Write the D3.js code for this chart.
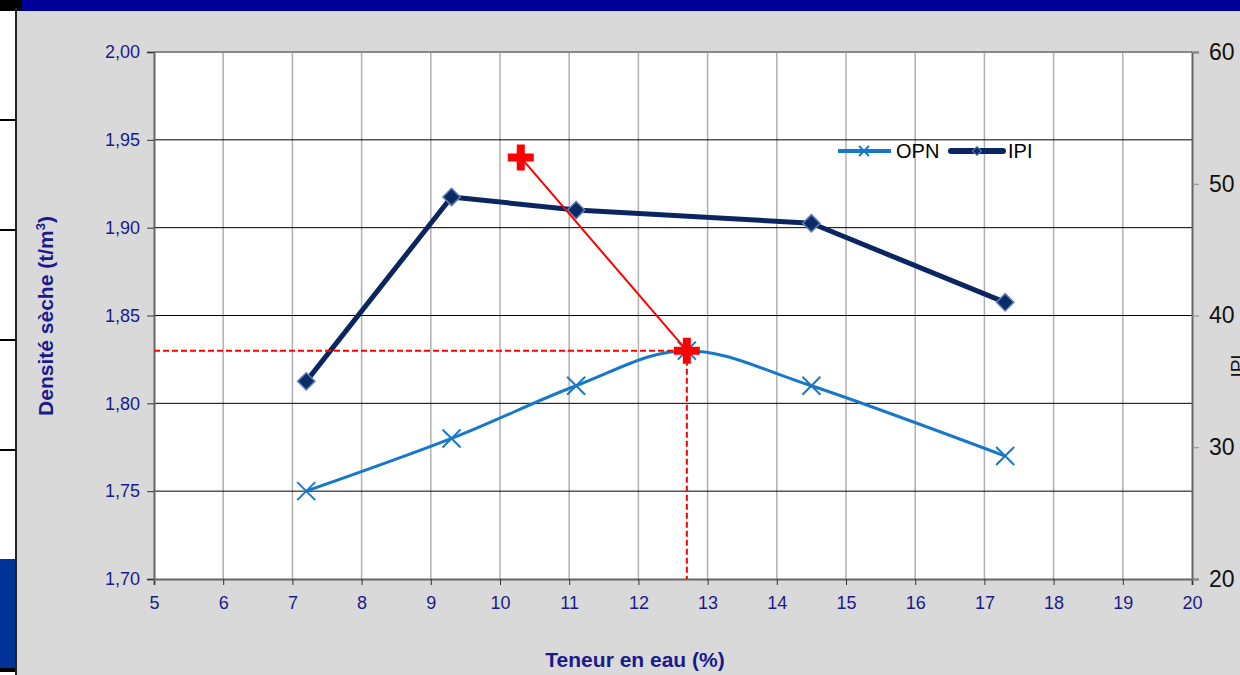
<!DOCTYPE html>
<html>
<head>
<meta charset="utf-8">
<script src="https://cdn.jsdelivr.net/npm/d3@7"></script>
<style>
  body { margin: 0; background: #d9d9d9; }
  svg { display: block; font-family: "Liberation Sans", Arial, sans-serif; }
</style>
</head>
<body>
<svg id="chart" width="1240" height="675"></svg>
<script>
// data
const teneur = [7.2, 9.3, 11.1, 12.7, 14.5, 17.3];
const opn = [1.75, 1.78, 1.81, 1.83, 1.81, 1.77];
const ipiX = [7.2, 9.3, 11.1, 14.5, 17.3];
const ipi = [35, 49, 48, 47, 41];
const optimum = { x: 12.7, y: 1.83 };
const ipiPoint = { x: 10.3, y: 1.94 };
const xTicks = d3.range(5, 21, 1);
const yTicks = [1.70, 1.75, 1.80, 1.85, 1.90, 1.95, 2.00];
const y2Ticks = [20, 30, 40, 50, 60];

const width = 1240, height = 675;
const m = { left: 154, right: 1192, top: 52, bottom: 579 };
const svg = d3.select("#chart");
const blueText = "#1a1a8c";

// background bits
svg.append("rect").attr("width", width).attr("height", height).attr("fill", "#d9d9d9");
svg.append("rect").attr("x", 0).attr("y", 0).attr("width", width).attr("height", 11).attr("fill", "#000099");
svg.append("rect").attr("x", 0).attr("y", 0).attr("width", 22).attr("height", 11).attr("fill", "#000");
svg.append("rect").attr("x", 0).attr("y", 11).attr("width", 15).attr("height", 664).attr("fill", "#fff");
[120, 230, 340, 450].forEach(function (yy) {
  svg.append("rect").attr("x", 0).attr("y", yy - 1).attr("width", 15).attr("height", 2).attr("fill", "#000");
});
svg.append("rect").attr("x", 0).attr("y", 559).attr("width", 15).attr("height", 109).attr("fill", "#003399");
svg.append("rect").attr("x", 0).attr("y", 668).attr("width", 15).attr("height", 4).attr("fill", "#000");
svg.append("rect").attr("x", 15).attr("y", 8).attr("width", 2).attr("height", 667).attr("fill", "#222");

// scales
const x = d3.scaleLinear().domain([5, 20]).range([m.left, m.right]);
const y = d3.scaleLinear().domain([1.70, 2.00]).range([m.bottom, m.top]);
const y2 = d3.scaleLinear().domain([20, 60]).range([m.bottom, m.top]);

// plot area
svg.append("rect")
  .attr("x", m.left).attr("y", m.top)
  .attr("width", m.right - m.left).attr("height", m.bottom - m.top)
  .attr("fill", "#fff");

// grid
svg.append("g").selectAll("line").data(xTicks.slice(1, -1)).enter().append("line")
  .attr("x1", d => x(d)).attr("x2", d => x(d))
  .attr("y1", m.top).attr("y2", m.bottom)
  .attr("stroke", "#b0b0b0").attr("stroke-width", 1.5);
svg.append("g").selectAll("line").data(yTicks.slice(1, -1)).enter().append("line")
  .attr("x1", m.left).attr("x2", m.right)
  .attr("y1", d => y(d)).attr("y2", d => y(d))
  .attr("stroke", "#000").attr("stroke-width", 1);
svg.append("line").attr("x1", m.left).attr("x2", m.right).attr("y1", m.top).attr("y2", m.top)
  .attr("stroke", "#888").attr("stroke-width", 2);

// axes
const fmt = d => d3.format(".2f")(d).replace(".", ",");
const gx = svg.append("g").attr("transform", "translate(0," + m.bottom + ")")
  .call(d3.axisBottom(x).tickValues(xTicks).tickSize(6).tickPadding(11));
const gy = svg.append("g").attr("transform", "translate(" + m.left + ",0)")
  .call(d3.axisLeft(y).tickValues(yTicks).tickFormat(fmt).tickSize(7).tickPadding(7));
const gy2 = svg.append("g").attr("transform", "translate(" + m.right + ",0)")
  .call(d3.axisRight(y2).tickValues(y2Ticks).tickSize(7).tickPadding(10));

[gx, gy, gy2].forEach(function (g) {
  g.attr("font-size", 18).attr("font-family", "Liberation Sans, Arial, sans-serif");
  g.select(".domain").attr("stroke", "#666").attr("stroke-width", 2);
  g.selectAll(".tick line").attr("stroke", "#333");
});
gx.selectAll("text").attr("fill", blueText);
gy.selectAll("text").attr("fill", blueText);
gy2.attr("font-size", 23);
gy2.selectAll("text").attr("fill", "#111");
gy2.selectAll(".tick line").attr("stroke", "#888");

// axis titles
svg.append("text")
  .attr("transform", "translate(53,316) rotate(-90)")
  .attr("text-anchor", "middle")
  .attr("font-size", 21).attr("font-weight", "bold").attr("fill", blueText)
  .html('Densité sèche (t/m<tspan dy="-8" font-size="13">3</tspan><tspan dy="8">)</tspan>');
svg.append("text")
  .attr("x", 635).attr("y", 667)
  .attr("text-anchor", "middle")
  .attr("font-size", 21).attr("font-weight", "bold").attr("fill", blueText)
  .text("Teneur en eau (%)");
svg.append("text")
  .attr("transform", "translate(1244,366) rotate(-90)")
  .attr("text-anchor", "middle")
  .attr("font-size", 19).attr("fill", "#111")
  .text("IPI");

// IPI series
const ipiData = ipiX.map((d, i) => ({ x: d, v: ipi[i] }));
svg.append("path").datum(ipiData)
  .attr("fill", "none").attr("stroke", "#0b2560").attr("stroke-width", 5)
  .attr("stroke-linejoin", "round")
  .attr("d", d3.line().x(d => x(d.x)).y(d => y2(d.v)));
svg.append("g").selectAll("path").data(ipiData).enter().append("path")
  .attr("d", d3.symbol(d3.symbolSquare, 150))
  .attr("transform", d => "translate(" + x(d.x) + "," + y2(d.v) + ") rotate(45)")
  .attr("fill", "#0b2a66").attr("stroke", "#5b7fb8").attr("stroke-width", 1.5);

// OPN series
const opnData = teneur.map((d, i) => ({ x: d, v: opn[i] }));
svg.append("path").datum(opnData)
  .attr("fill", "none").attr("stroke", "#1878c8").attr("stroke-width", 3)
  .attr("d", d3.line().x(d => x(d.x)).y(d => y(d.v)).curve(d3.curveCardinal.tension(0)));
// x markers
svg.append("g").selectAll("g").data(opnData).enter().append("g")
  .attr("transform", d => "translate(" + x(d.x) + "," + y(d.v) + ")")
  .each(function () {
    const g = d3.select(this);
    g.append("line").attr("x1", -9).attr("y1", -9).attr("x2", 9).attr("y2", 9);
    g.append("line").attr("x1", -9).attr("y1", 9).attr("x2", 9).attr("y2", -9);
    g.selectAll("line").attr("stroke", "#1878c8").attr("stroke-width", 2);
  });

// red construction lines
svg.append("line")
  .attr("x1", m.left).attr("x2", x(optimum.x))
  .attr("y1", y(optimum.y)).attr("y2", y(optimum.y))
  .attr("stroke", "#ff0000").attr("stroke-width", 2).attr("stroke-dasharray", "6,3");
svg.append("line")
  .attr("x1", x(optimum.x)).attr("x2", x(optimum.x))
  .attr("y1", y(optimum.y)).attr("y2", m.bottom)
  .attr("stroke", "#ff0000").attr("stroke-width", 2).attr("stroke-dasharray", "6,3");
svg.append("line")
  .attr("x1", x(ipiPoint.x)).attr("y1", y(ipiPoint.y))
  .attr("x2", x(optimum.x)).attr("y2", y(optimum.y))
  .attr("stroke", "#ff0000").attr("stroke-width", 2);
svg.append("g").selectAll("path").data([ipiPoint, optimum]).enter().append("path")
  .attr("transform", d => "translate(" + x(d.x) + "," + y(d.y) + ")")
  .attr("d", "M-13,-4H-4V-13H4V-4H13V4H4V13H-4V4H-13Z")
  .attr("fill", "#ff0000");

// legend
const leg = svg.append("g").attr("transform", "translate(838,151)");
leg.append("line").attr("x1", 0).attr("x2", 53).attr("stroke", "#1878c8").attr("stroke-width", 4);
leg.append("line").attr("x1", 21).attr("y1", -5).attr("x2", 31).attr("y2", 5).attr("stroke", "#1878c8").attr("stroke-width", 2);
leg.append("line").attr("x1", 21).attr("y1", 5).attr("x2", 31).attr("y2", -5).attr("stroke", "#1878c8").attr("stroke-width", 2);
leg.append("text").attr("x", 58).attr("y", 7).attr("font-size", 20).attr("fill", "#000").text("OPN");
leg.append("line").attr("x1", 113).attr("x2", 165).attr("stroke", "#0b2560").attr("stroke-width", 6).attr("stroke-linecap", "round");
leg.append("path").attr("d", d3.symbol(d3.symbolSquare, 40))
  .attr("transform", "translate(139,0) rotate(45)")
  .attr("fill", "#0b2a66").attr("stroke", "#5b7fb8").attr("stroke-width", 1);
leg.append("text").attr("x", 170).attr("y", 7).attr("font-size", 20).attr("fill", "#000").text("IPI");
</script>
</body>
</html>
